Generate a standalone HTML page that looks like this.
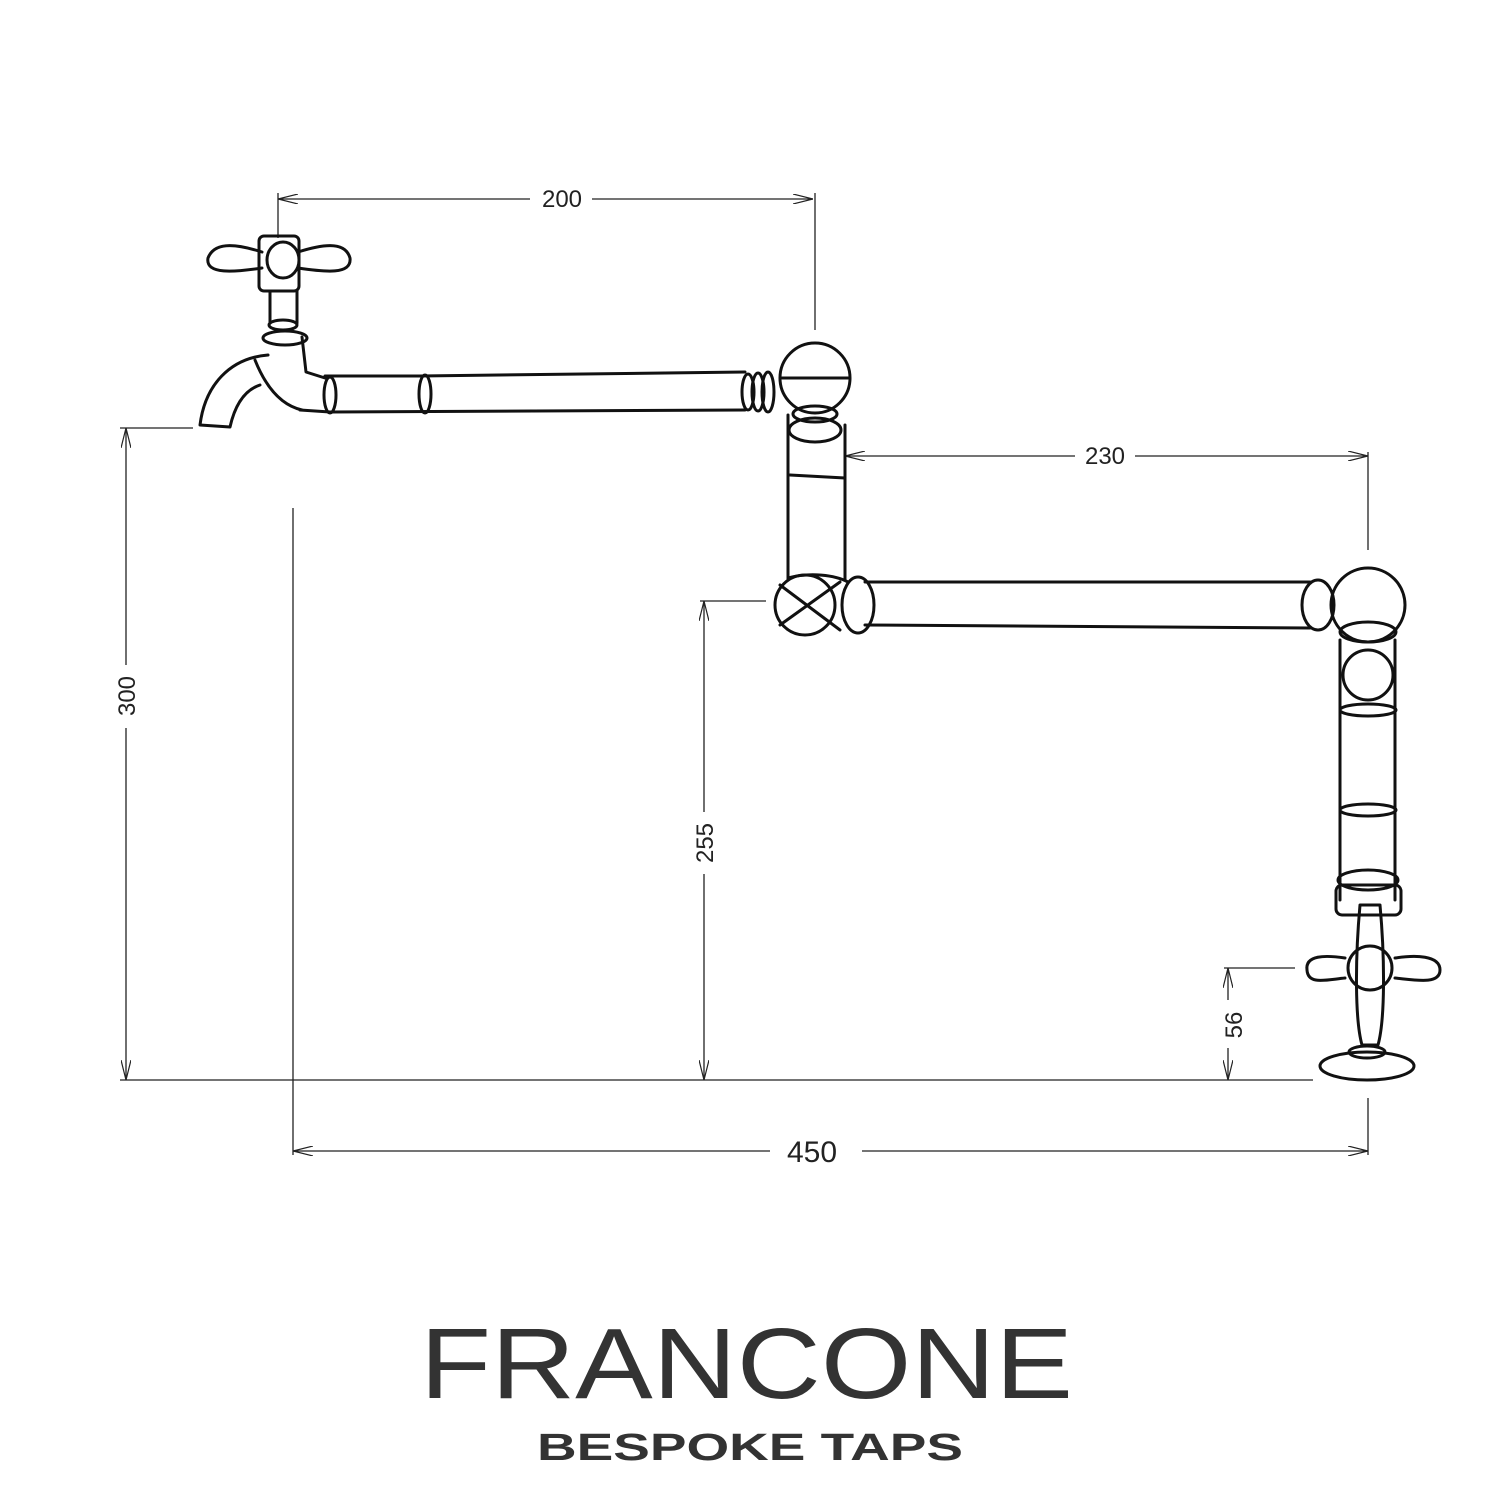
<!DOCTYPE html>
<html><head><style>html,body{margin:0;padding:0;background:#fff}svg{display:block}</style></head>
<body>
<svg width="1500" height="1500" viewBox="0 0 1500 1500" xmlns="http://www.w3.org/2000/svg">
<rect width="1500" height="1500" fill="#fff"/>
<defs>
<marker id="a" viewBox="0 0 20 10" refX="20" refY="5" markerWidth="20" markerHeight="10" orient="auto-start-reverse" markerUnits="userSpaceOnUse">
<path d="M0,0 L20,5 L0,10" fill="none" stroke="#222" stroke-width="1.2"/>
</marker>
</defs>
<g stroke="#222" stroke-width="1.3" fill="none">
<line x1="278" y1="199" x2="530" y2="199" marker-start="url(#a)"/>
<line x1="592" y1="199" x2="813" y2="199" marker-end="url(#a)"/>
<line x1="278" y1="193" x2="278" y2="238"/>
<line x1="815" y1="193" x2="815" y2="330"/>
<line x1="845" y1="456" x2="1075" y2="456" marker-start="url(#a)"/>
<line x1="1135" y1="456" x2="1368" y2="456" marker-end="url(#a)"/>
<line x1="1368" y1="452" x2="1368" y2="550"/>
<line x1="126" y1="428" x2="126" y2="665" marker-start="url(#a)"/>
<line x1="126" y1="728" x2="126" y2="1080" marker-end="url(#a)"/>
<line x1="120" y1="428" x2="193" y2="428"/>
<line x1="293" y1="508" x2="293" y2="1155"/>
<line x1="120" y1="1080" x2="1313" y2="1080"/>
<line x1="704" y1="601" x2="704" y2="812" marker-start="url(#a)"/>
<line x1="704" y1="874" x2="704" y2="1080" marker-end="url(#a)"/>
<line x1="700" y1="601" x2="766" y2="601"/>
<line x1="1228" y1="968" x2="1228" y2="1000" marker-start="url(#a)"/>
<line x1="1228" y1="1048" x2="1228" y2="1080" marker-end="url(#a)"/>
<line x1="1224" y1="968" x2="1295" y2="968"/>
<line x1="293" y1="1151" x2="770" y2="1151" marker-start="url(#a)"/>
<line x1="862" y1="1151" x2="1368" y2="1151" marker-end="url(#a)"/>
<line x1="1368" y1="1098" x2="1368" y2="1155"/>
</g>
<g font-family="Liberation Sans, sans-serif" font-size="24" fill="#222" text-anchor="middle">
<text x="562" y="207">200</text>
<text x="1105" y="464">230</text>
<text x="812" y="1162" font-size="30">450</text>
<text transform="translate(135,696) rotate(-90)">300</text>
<text transform="translate(713,843) rotate(-90)">255</text>
<text transform="translate(1242,1025) rotate(-90)">56</text>
</g>
<g stroke="#111" stroke-width="3" fill="none" stroke-linejoin="round" stroke-linecap="round">
<path d="M262,252 C240,245 215,240 208,258 C205,275 235,272 262,268"/>
<path d="M298,252 C320,245 345,240 350,258 C352,275 325,272 298,268"/>
<rect x="259" y="236" width="40" height="55" rx="5"/>
<ellipse cx="283" cy="260" rx="16" ry="18"/>
<path d="M270,291 L270,323 M297,291 L297,323"/>
<ellipse cx="283" cy="325" rx="14" ry="5"/>
<ellipse cx="285" cy="338" rx="22" ry="7"/>
<path d="M302,337 L306,372 L325,378"/>
<path d="M268,355 C230,358 205,385 200,425 L230,427 C235,405 245,390 260,385"/>
<path d="M255,360 C265,385 280,405 302,410"/>
<path d="M300,410 L330,412 L745,410"/>
<path d="M325,376 L420,376 L745,372"/>
<ellipse cx="330" cy="395" rx="6" ry="18"/>
<ellipse cx="425" cy="394" rx="6" ry="19"/>
<ellipse cx="748" cy="392" rx="6" ry="18"/>
<ellipse cx="758" cy="392" rx="6" ry="19"/>
<ellipse cx="768" cy="392" rx="6" ry="20"/>
<circle cx="815" cy="378" r="35"/>
<path d="M782,378 L848,378"/>
<ellipse cx="815" cy="414" rx="22" ry="8"/>
<path d="M788,415 L788,580 M845,425 L845,580"/>
<ellipse cx="815" cy="430" rx="26" ry="12"/>
<path d="M790,475 L845,478"/>
<path d="M788,578 C810,572 835,575 848,582"/>
<ellipse cx="805" cy="605" rx="30" ry="30"/>
<ellipse cx="858" cy="605" rx="16" ry="28"/>
<path d="M780,585 L840,630 M780,625 L840,582"/>
<path d="M865,582 L1310,582 M865,625 L1310,628"/>
<ellipse cx="1318" cy="605" rx="16" ry="25"/>
<circle cx="1368" cy="605" r="37"/>
<ellipse cx="1368" cy="632" rx="28" ry="10"/>
<path d="M1340,640 L1340,900 M1395,640 L1395,900"/>
<circle cx="1368" cy="675" r="25"/>
<ellipse cx="1368" cy="710" rx="28" ry="6"/>
<ellipse cx="1368" cy="810" rx="28" ry="6"/>
<ellipse cx="1368" cy="880" rx="30" ry="10"/>
<rect x="1336" y="885" width="65" height="30" rx="6"/>
<path d="M1345,958 C1325,955 1305,955 1307,970 C1308,985 1325,980 1345,978"/>
<path d="M1395,958 C1415,955 1440,955 1440,970 C1440,985 1415,980 1395,978"/>
<circle cx="1370" cy="968" r="22"/>
<path d="M1360,905 C1355,960 1355,1020 1362,1045 L1378,1045 C1385,1020 1385,960 1380,905 Z"/>
<ellipse cx="1367" cy="1052" rx="18" ry="6"/>
<ellipse cx="1367" cy="1066" rx="47" ry="14"/>
</g>
<g font-family="Liberation Sans, sans-serif" fill="#333" text-anchor="start">
<text x="420" y="1398" font-size="100" textLength="653" lengthAdjust="spacingAndGlyphs">FRANCONE</text>
<text x="537" y="1460" font-size="38" font-weight="bold" textLength="426" lengthAdjust="spacingAndGlyphs">BESPOKE TAPS</text>
</g>
</svg>
</body></html>
